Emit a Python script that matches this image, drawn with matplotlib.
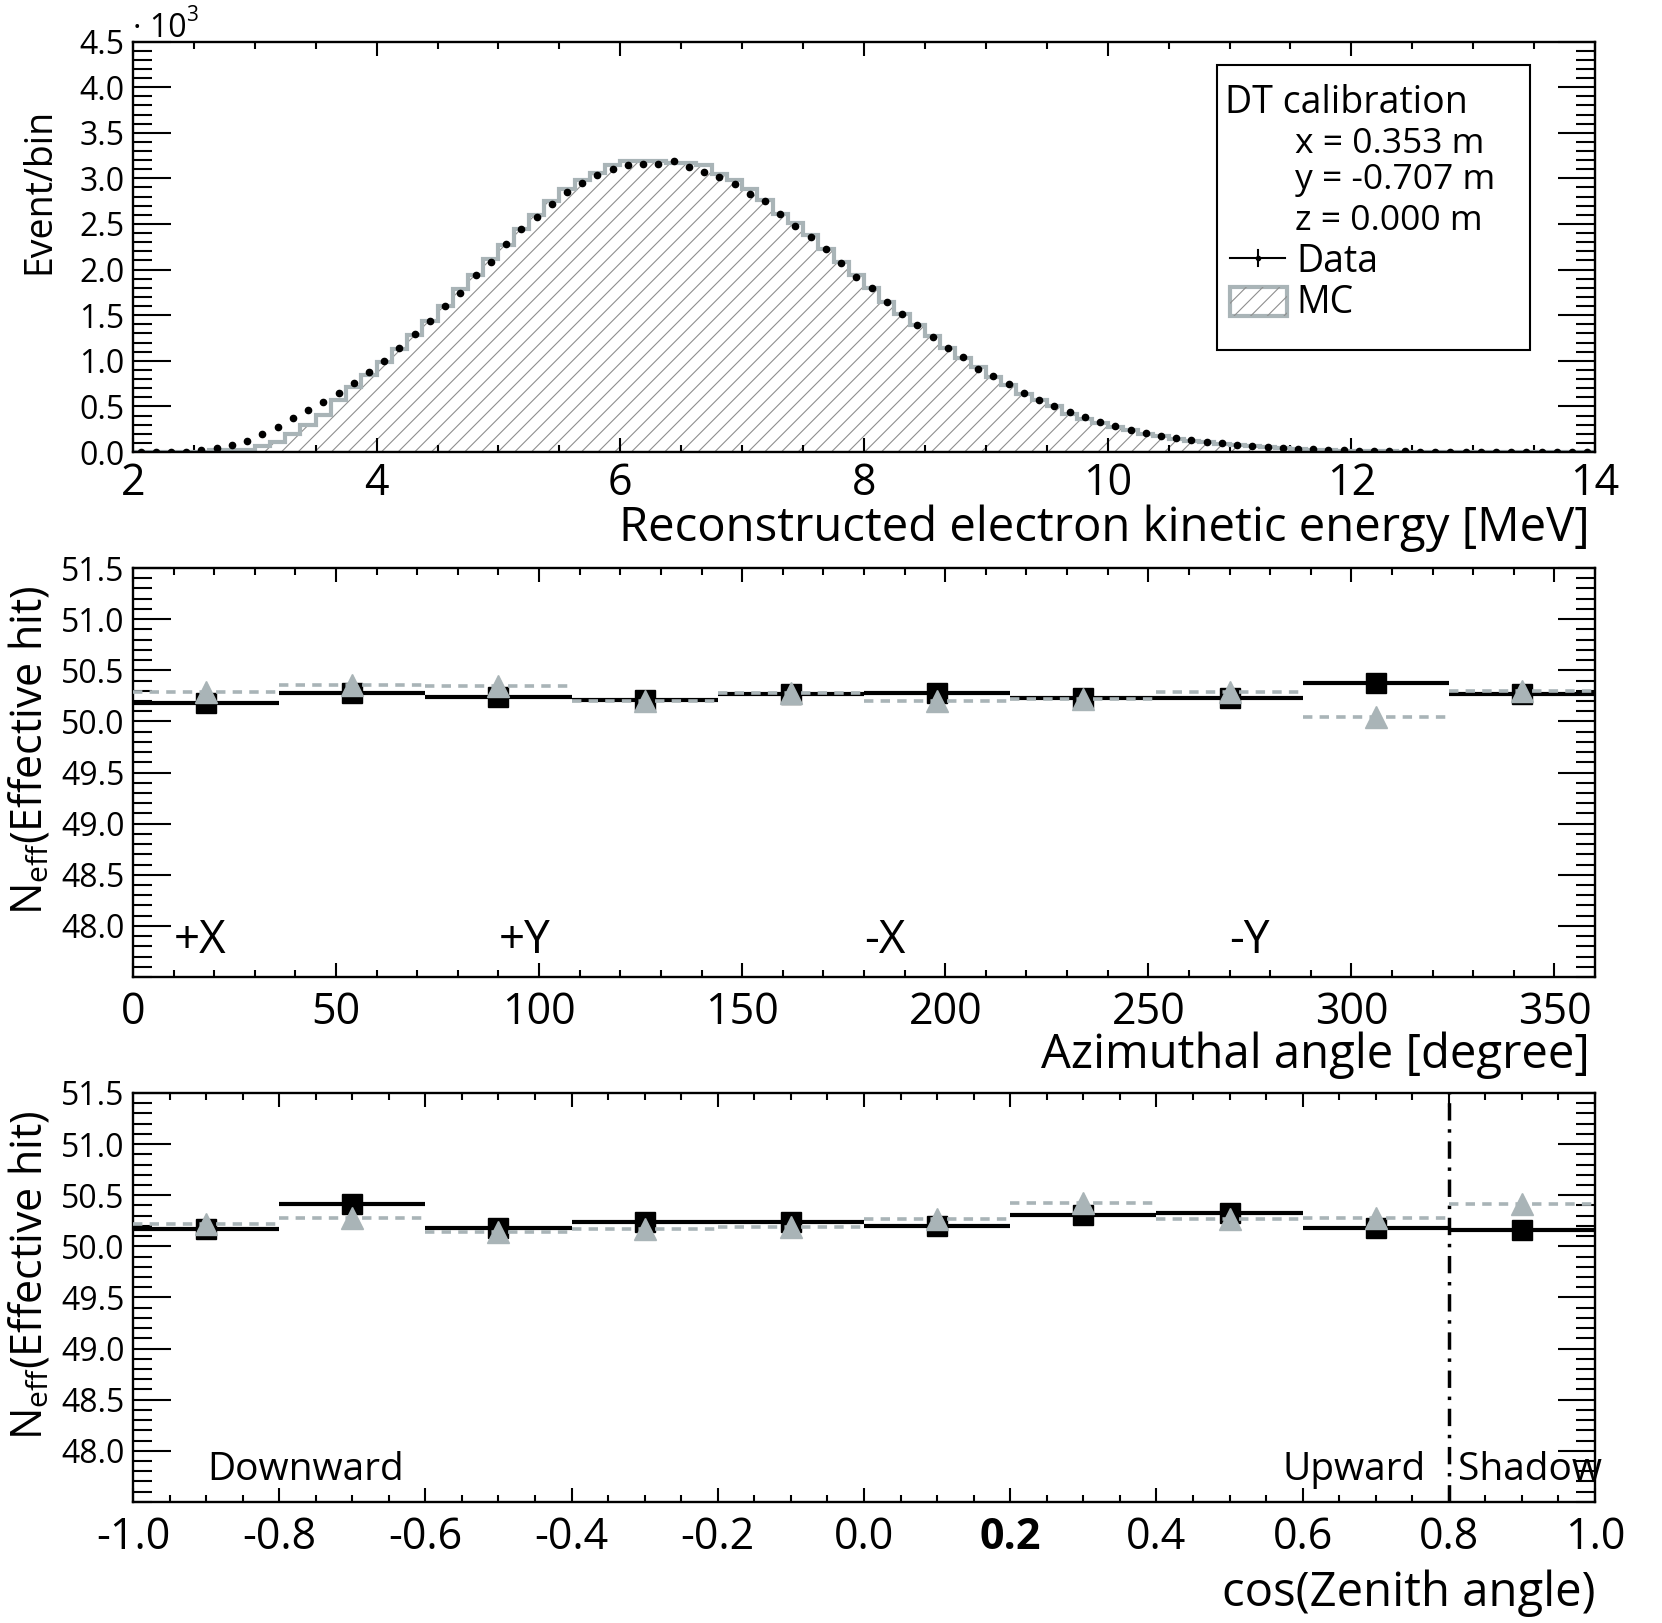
import numpy as np
import matplotlib
matplotlib.use("Agg")
import matplotlib.pyplot as plt
from matplotlib.ticker import MultipleLocator
from matplotlib.patches import Rectangle

plt.rcParams['font.family'] = ['Open Sans', 'DejaVu Sans']
plt.rcParams['mathtext.fontset'] = 'custom'
plt.rcParams['mathtext.rm'] = 'Open Sans'
plt.rcParams['axes.unicode_minus'] = False
plt.rcParams['hatch.linewidth'] = 0.8

GRAY = '#a9b4b7'
HATCH_GRAY = '#8f8f8f'

# --- energy spectrum: 0.125 MeV bins, 2 - 14 MeV ---
e_edges = np.linspace(2.0, 14.0, 97)
e_data = [0, 0, 0, 5, 20, 40, 77, 120, 194, 278, 376, 460, 552, 650, 760, 881,
          994, 1144, 1294, 1436, 1604, 1743, 1944, 2087, 2284, 2445, 2580, 2716,
          2855, 2953, 3037, 3100, 3147, 3158, 3154, 3190, 3128, 3070, 3012, 2939,
          2833, 2748, 2610, 2482, 2357, 2222, 2069, 1915, 1795, 1641, 1509, 1389,
          1257, 1140, 1038, 914, 830, 746, 647, 570, 501, 439, 380, 329, 288, 241,
          212, 179, 157, 132, 112, 95, 80, 66, 55, 45, 37, 30, 24, 19, 15, 12,
          9, 7, 5, 4, 3, 2, 2, 1, 1, 1, 0, 0, 0, 0]
e_mc = [0, 0, 0, 0, 0, 20, 20, 22, 62, 105, 201, 292, 409, 567, 713, 841,
        987, 1133, 1279, 1433, 1601, 1784, 1937, 2113, 2266, 2442, 2602, 2752,
        2880, 2979, 3056, 3143, 3187, 3187, 3187, 3173, 3173, 3143, 3052, 2986,
        2887, 2760, 2613, 2515, 2376, 2230, 2083, 1944, 1798, 1645, 1517, 1389,
        1272, 1140, 1031, 932, 822, 731, 640, 567, 504, 420, 365, 318, 274, 238,
        201, 172, 146, 124, 106, 90, 75, 63, 52, 42, 34, 27, 21, 16, 12, 9,
        7, 5, 4, 3, 2, 2, 1, 1, 1, 0, 0, 0, 0, 0]

# --- azimuthal angle: 10 bins of 36 degrees ---
phi_edges = np.linspace(0, 360, 11)
phi_data = [50.177, 50.28, 50.238, 50.209, 50.267, 50.278, 50.229, 50.229, 50.379, 50.271]
phi_mc = [50.29, 50.356, 50.346, 50.199, 50.28, 50.202, 50.216, 50.284, 50.04, 50.30]
phi_labels = ['+X', '+Y', '-X', '-Y']
phi_label_pos = [10, 90, 180, 270]

# --- cos(zenith): 10 bins of 0.2 ---
cz_edges = np.linspace(-1, 1, 11)
cz_data = [50.173, 50.41, 50.18, 50.24, 50.24, 50.196, 50.31, 50.33, 50.18, 50.163]
cz_mc = [50.219, 50.277, 50.135, 50.165, 50.185, 50.268, 50.427, 50.268, 50.277, 50.417]
cz_ticks = [-1.0, -0.8, -0.6, -0.4, -0.2, 0.0, 0.2, 0.4, 0.6, 0.8, 1.0]

fig = plt.figure(figsize=(16.62, 16.23), dpi=100)
L, W = 0.080, 0.8797
ax1 = fig.add_axes([L, 0.7215, W, 0.2529])
ax2 = fig.add_axes([L, 0.3980, W, 0.2520])
ax3 = fig.add_axes([L, 0.0746, W, 0.2520])


def style_axes(ax, xminor, yminor):
    for s in ax.spines.values():
        s.set_linewidth(1.7)
    ax.xaxis.set_minor_locator(MultipleLocator(xminor))
    ax.yaxis.set_minor_locator(MultipleLocator(yminor))
    ax.tick_params(which='both', direction='in', top=True, right=True, width=1.5)
    ax.tick_params(axis='x', which='major', length=10, labelsize=31, pad=7)
    ax.tick_params(axis='x', which='minor', length=5)
    ax.tick_params(axis='y', which='major', length=27, labelsize=23, pad=6)
    ax.tick_params(axis='y', which='minor', length=14)


# ---------------- top: energy spectrum ----------------
ax1.stairs(e_mc, e_edges, fill=True, hatch='//', facecolor='none',
           edgecolor=HATCH_GRAY, linewidth=0, zorder=1)
ax1.stairs(e_mc, e_edges, color=GRAY, linewidth=3, zorder=2)
centers = 0.5 * (e_edges[:-1] + e_edges[1:])
ax1.plot(centers, e_data, 'o', color='black', markersize=4.5, zorder=3)
ax1.set_xlim(2, 14)
ax1.set_ylim(0, 4500)
ax1.set_xticks(range(2, 15, 2))
ax1.set_yticks(np.arange(0, 4501, 500))
ax1.set_yticklabels([f"{v / 1000:.1f}" for v in np.arange(0, 4501, 500)])
style_axes(ax1, 0.5, 100)
ax1.text(0.0, 1.011, "\u00b7 10", transform=ax1.transAxes, fontsize=23,
         ha='left', va='baseline')
ax1.text(0.036, 1.05, "3", transform=ax1.transAxes, fontsize=15,
         ha='left', va='baseline')
ax1.text(0.9966, -0.2168, "Reconstructed electron kinetic energy [MeV]",
         transform=ax1.transAxes, fontsize=34, ha='right', va='baseline')
ax1.text(-0.064, 0.635, "Event/bin", transform=ax1.transAxes, fontsize=27,
         rotation=90, ha='center', va='center')

# legend box
ax1.add_patch(Rectangle((0.7415, 0.2485), 0.214, 0.6943, transform=ax1.transAxes,
                        facecolor='white', edgecolor='black', linewidth=1.5, zorder=5))
ax1.text(0.747, 0.8258, "DT calibration", transform=ax1.transAxes, fontsize=27,
         va='baseline', zorder=6)
for txt, yb in [("x = 0.353 m", 0.7284), ("y = -0.707 m", 0.6407), ("z = 0.000 m", 0.5408)]:
    ax1.text(0.795, yb, txt, transform=ax1.transAxes, fontsize=25.5, va='baseline', zorder=6)
ax1.text(0.796, 0.4385, "Data", transform=ax1.transAxes, fontsize=27, va='baseline', zorder=6)
ax1.text(0.796, 0.3386, "MC", transform=ax1.transAxes, fontsize=27, va='baseline', zorder=6)
ax1.plot([0.7504, 0.788], [0.4726, 0.4726], color='black', lw=1.5,
         transform=ax1.transAxes, zorder=6, clip_on=False)
ax1.plot([0.7695, 0.7695], [0.4526, 0.4926], color='black', lw=1.5,
         transform=ax1.transAxes, zorder=6, clip_on=False)
ax1.plot([0.7695], [0.4726], 'o', color='black', ms=3, transform=ax1.transAxes, zorder=6)
ax1.add_patch(Rectangle((0.7504, 0.3313), 0.0389, 0.0706, transform=ax1.transAxes,
                        facecolor='white', edgecolor=GRAY, linewidth=3, zorder=6))
ax1.add_patch(Rectangle((0.7504, 0.3313), 0.0389, 0.0706, transform=ax1.transAxes,
                        facecolor='none', edgecolor=HATCH_GRAY, hatch='//', linewidth=0, zorder=6))


def neff_panel(ax, edges, data, mc):
    c = 0.5 * (edges[:-1] + edges[1:])
    ax.hlines(data, edges[:-1], edges[1:], color='black', linewidth=3, zorder=2)
    ax.plot(c, data, 's', color='black', markersize=15, zorder=3)
    ax.hlines(mc, edges[:-1], edges[1:], color=GRAY, linewidth=2.6,
              linestyle=(0, (2.6, 2.0)), zorder=4)
    ax.plot(c, mc, '^', color=GRAY, markersize=16, zorder=5)
    ax.set_ylim(47.5, 51.5)
    ax.set_yticks(np.arange(48.0, 51.51, 0.5))
    ax.set_yticklabels([f"{v:.1f}" for v in np.arange(48.0, 51.51, 0.5)])
    ax.text(-0.0705, 0.555, r"N$_{\mathrm{eff}}$(Effective hit)", transform=ax.transAxes,
            fontsize=31, rotation=90, ha='center', va='center')


# ---------------- middle: azimuthal angle ----------------
neff_panel(ax2, phi_edges, phi_data, phi_mc)
ax2.set_xlim(0, 360)
ax2.set_xticks(range(0, 351, 50))
style_axes(ax2, 10, 0.1)
ax2.tick_params(axis='x', which='major', pad=10)
for lab, xp in zip(phi_labels, phi_label_pos):
    ax2.text(xp, 47.85, lab, fontsize=33, ha='left', va='center')
ax2.text(0.9966, -0.2225, "Azimuthal angle [degree]", transform=ax2.transAxes,
         fontsize=34, ha='right', va='baseline')

# ---------------- bottom: cos(zenith) ----------------
neff_panel(ax3, cz_edges, cz_data, cz_mc)
ax3.axvline(0.8, color='black', linewidth=2.5, linestyle=(0, (5, 2.5, 1, 2.5)), zorder=1)
ax3.set_xlim(-1, 1)
ax3.set_xticks(cz_ticks, [f"{v:.1f}" for v in cz_ticks])
for lbl in ax3.get_xticklabels():
    if lbl.get_text() == '0.2':
        lbl.set_fontweight('bold')
style_axes(ax3, 0.05, 0.1)
ax3.tick_params(axis='x', which='major', pad=10)
ax3.text(-0.899, 47.81, "Downward", fontsize=28, ha='left', va='center')
ax3.text(0.573, 47.81, "Upward", fontsize=28, ha='left', va='center')
ax3.text(0.812, 47.81, "Shadow", fontsize=28, ha='left', va='center')
ax3.text(1.0, -0.254, "cos(Zenith angle)", transform=ax3.transAxes,
         fontsize=34, ha='right', va='baseline')

fig.savefig("out.png", dpi=100)
